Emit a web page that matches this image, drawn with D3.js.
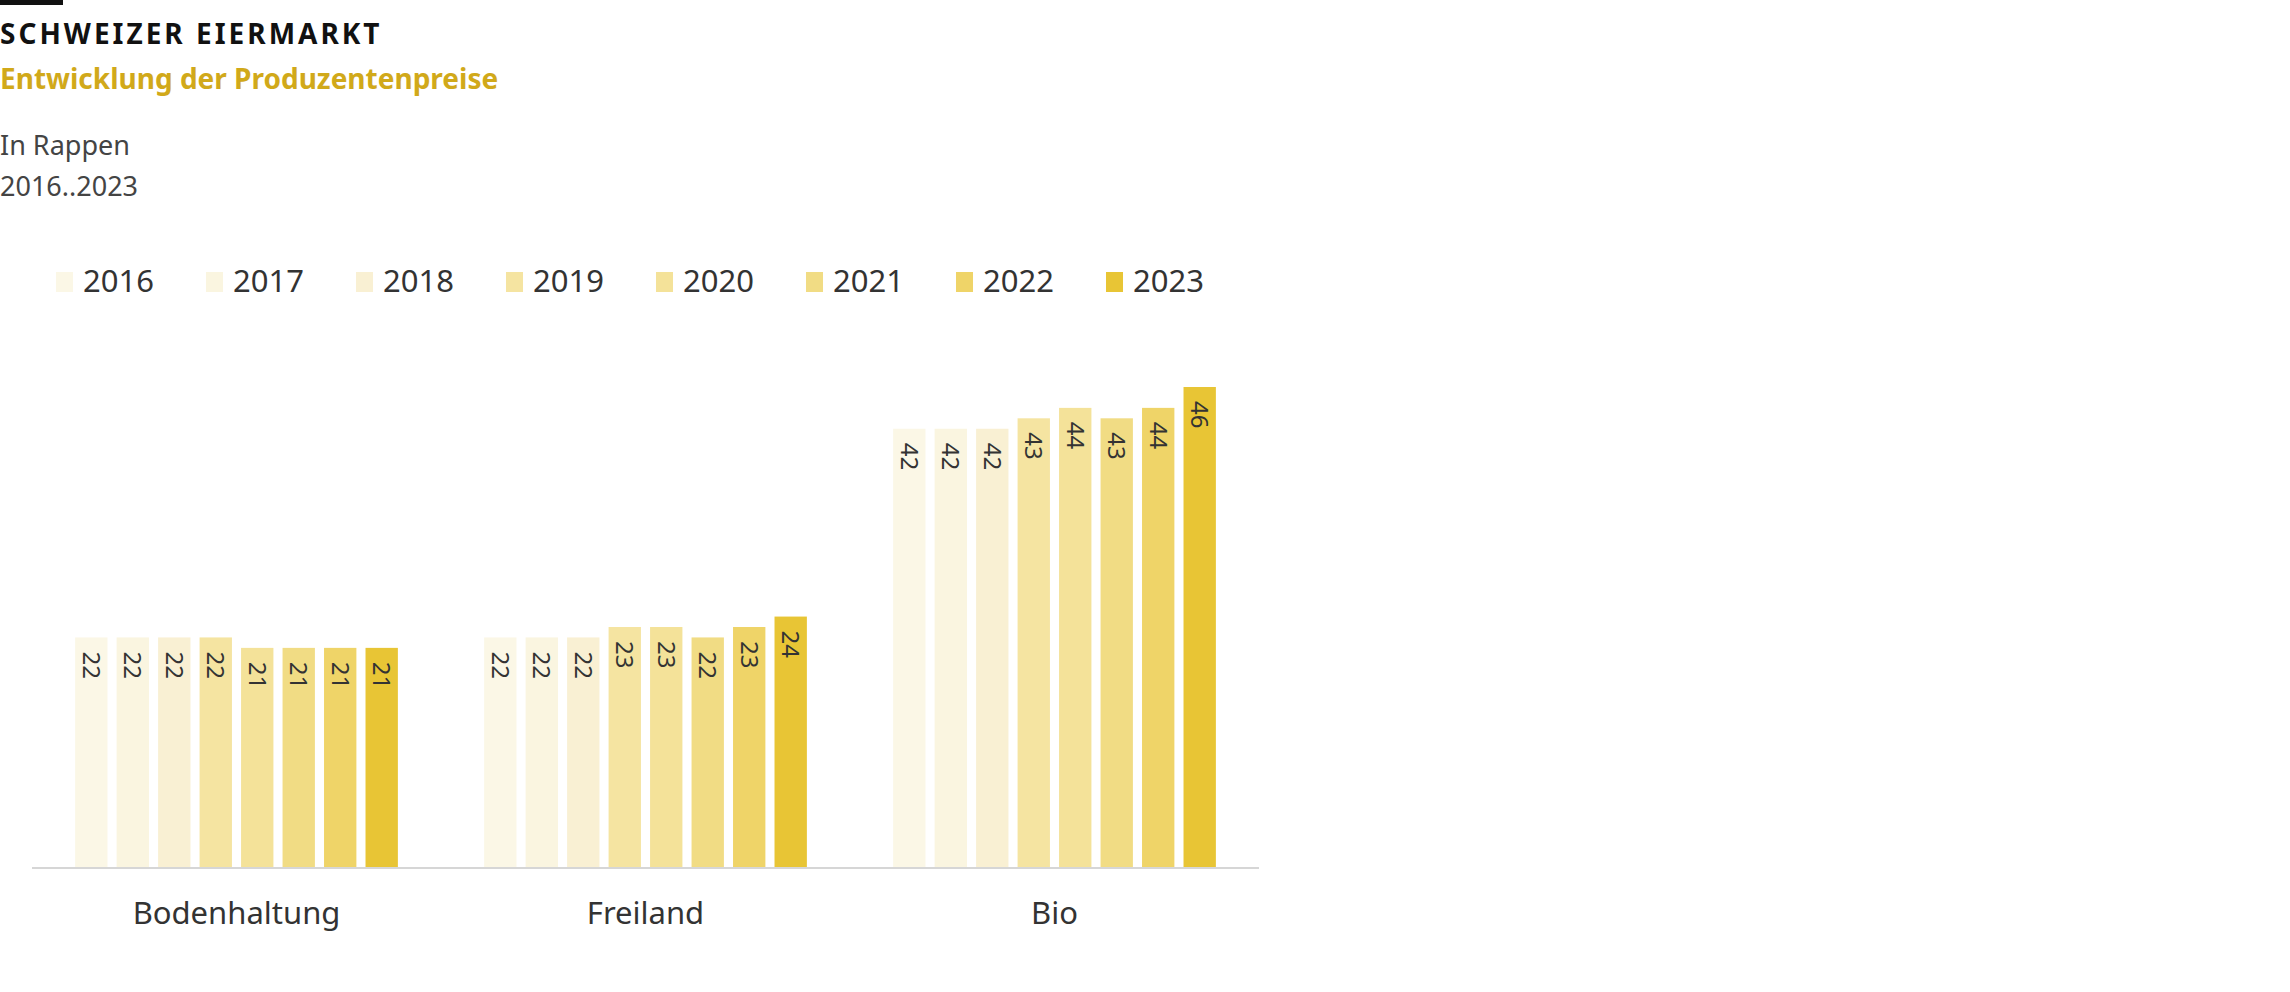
<!DOCTYPE html>
<html><head><meta charset="utf-8">
<script src="https://cdn.jsdelivr.net/npm/d3@7"></script>
<style>body{margin:0;background:#fff}svg{font-family:"Noto Sans",sans-serif}</style>
</head><body><div id="chart"></div>
<script>
var categories = ['Bodenhaltung', 'Freiland', 'Bio'];
var years = ['2016', '2017', '2018', '2019', '2020', '2021', '2022', '2023'];
var colors = ['#fbf7e6', '#faf5e0', '#f9f0d3', '#f5e4a1', '#f4e299', '#f1dc84', '#efd468', '#e8c535'];
var bodenhaltung = [22, 22, 22, 22, 21, 21, 21, 21];
var freiland = [22, 22, 22, 23, 23, 22, 23, 24];
var bio = [42, 42, 42, 43, 44, 43, 44, 46];
var series = [bodenhaltung, freiland, bio];

var svg = d3.select('#chart').append('svg').attr('width', 2290).attr('height', 992);

svg.append('rect').attr('x', 0).attr('y', 0).attr('width', 63).attr('height', 5).attr('fill', '#111');
svg.append('text').attr('x', 0).attr('y', 44).text('SCHWEIZER EIERMARKT')
  .attr('font-size', 28).attr('font-weight', 700).attr('letter-spacing', 3).attr('fill', '#111');
svg.append('text').attr('x', 0).attr('y', 89).text('Entwicklung der Produzentenpreise')
  .attr('font-size', 28).attr('font-weight', 700).attr('fill', '#d1a91a');
svg.append('text').attr('x', 0).attr('y', 155).text('In Rappen').attr('font-size', 27).attr('fill', '#444');
svg.append('text').attr('x', 0).attr('y', 196).text('2016..2023').attr('font-size', 27).attr('fill', '#444');

var legend = svg.selectAll('.lg').data(years).enter().append('g')
  .attr('transform', function(d, i) { return 'translate(' + (56 + i * 150) + ',272)'; });
legend.append('rect').attr('width', 17).attr('height', 20).attr('fill', function(d, i) { return colors[i]; });
legend.append('text').attr('x', 27).attr('y', 20).text(function(d) { return d; })
  .attr('font-size', 31).attr('fill', '#333');

var x0 = d3.scaleBand().domain(categories).range([32, 1259]);
var x1 = d3.scaleBand().domain(years).range([34, x0.bandwidth() - 34]).padding(0.22);
var y = d3.scaleLinear().domain([0, 46]).range([867, 387]);

var groups = svg.selectAll('.grp').data(categories).enter().append('g')
  .attr('transform', function(d) { return 'translate(' + x0(d) + ',0)'; });

groups.each(function(c, ci) {
  var g = d3.select(this);
  var vals = series[ci];
  g.selectAll('rect').data(vals).enter().append('rect')
    .attr('x', function(d, i) { return x1(years[i]); })
    .attr('width', x1.bandwidth())
    .attr('y', function(d) { return y(d); })
    .attr('height', function(d) { return y(0) - y(d); })
    .attr('fill', function(d, i) { return colors[i]; });
  g.selectAll('text').data(vals).enter().append('text')
    .attr('transform', function(d, i) {
      return 'translate(' + (x1(years[i]) + x1.bandwidth() / 2) + ',' + (y(d) + 14) + ') rotate(90)';
    })
    .attr('dy', '0.35em').attr('font-size', 24).attr('fill', '#333')
    .text(function(d) { return d; });
});

svg.append('line').attr('x1', 32).attr('x2', 1259).attr('y1', 868).attr('y2', 868)
  .attr('stroke', '#d6d6d6').attr('stroke-width', 2);

svg.selectAll('.cat').data(categories).enter().append('text')
  .attr('x', function(d) { return x0(d) + x0.bandwidth() / 2; }).attr('y', 924)
  .attr('text-anchor', 'middle').attr('font-size', 31).attr('fill', '#333')
  .text(function(d) { return d; });
</script></body></html>
